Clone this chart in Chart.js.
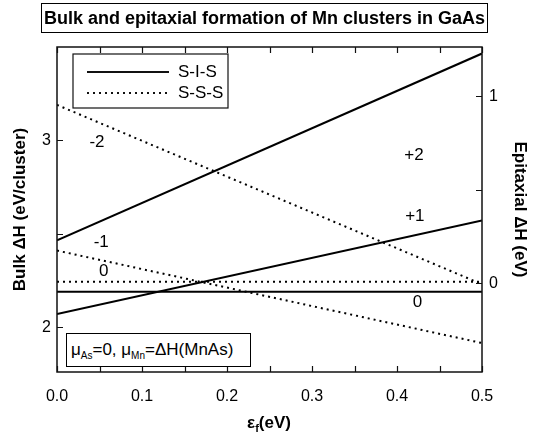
<!DOCTYPE html>
<html>
<head>
<meta charset="utf-8">
<script src="https://cdn.jsdelivr.net/npm/chart.js@4.4.1/dist/chart.umd.min.js"></script>
<style>
  body{margin:0;background:#fff;font-family:Arial,"Liberation Sans",Helvetica,sans-serif;}
  #wrap{position:relative;width:538px;height:439px;}
  #wrap canvas{position:absolute;left:0;top:0;}
  #title{position:absolute;left:41px;top:3px;width:445px;height:28px;border:1px solid #000;
    font-weight:bold;font-size:18px;line-height:28px;text-align:center;white-space:nowrap;}
  #xtitle{position:absolute;left:0;width:538px;top:413px;text-align:center;font-weight:bold;font-size:17px;}
  #xtitle sub{font-size:11px;vertical-align:-4px;}
  #note{position:absolute;left:66px;top:333px;width:179px;height:32px;border:1px solid #000;background:#fff;
    font-size:17px;line-height:32px;padding-left:4px;box-sizing:content-box;white-space:nowrap;}
  #note sub{font-size:10px;vertical-align:-4px;}
</style>
</head>
<body>
<div id="wrap">
  <canvas id="chart" width="538" height="439"></canvas>
  <div id="title">Bulk and epitaxial formation of Mn clusters in GaAs</div>
  <div id="xtitle">ε<sub>f</sub>(eV)</div>
  <div id="note">μ<sub>As</sub>=0, μ<sub>Mn</sub>=ΔH(MnAs)</div>
</div>
<script>
/* data */
const xVals = [0, 0.5];
const sisPlus2 = [2.465, 3.465];
const sisPlus1 = [2.07, 2.571];
const sisZero = [2.19, 2.19];
const sssMinus2 = [3.19, 2.23];
const sssMinus1 = [2.41, 1.915];
const sssZero = [2.243, 2.243];

/* ticks */
const xMajor = [0, 0.1, 0.2, 0.3, 0.4, 0.5];
const xMinor = [0.05, 0.15, 0.25, 0.35, 0.45];
const bulkMajor = [2, 3];
const bulkMinor = [2.5];
const epiMajor = [0, 1];
const epiMinor = [0.5];

/* charge state labels next to the lines */
const chargeLabels = ['+2', '+1', '0', '-2', '-1', '0'];
const chargeX = [0.42, 0.421, 0.424, 0.047, 0.052, 0.055];
const chargeY = [2.918, 2.596, 2.135, 2.988, 2.452, 2.297];

const legendNames = ['S-I-S', 'S-S-S'];

const pts = ys => xVals.map((x, i) => ({x: x, y: ys[i]}));
const DOT = [2, 4];

function line(label, ys, dotted){
  return {
    label: label,
    data: pts(ys),
    borderColor: '#000',
    borderWidth: 2,
    borderDash: dotted ? DOT : [],
    pointRadius: 0,
    tension: 0,
    yAxisID: 'y'
  };
}

/* frame, inward ticks, charge labels and legend */
const decor = {
  id: 'decor',
  afterDatasetsDraw(chart){
    const {ctx, chartArea: a, scales: {x, y, y2}} = chart;
    ctx.save();
    ctx.strokeStyle = '#111';
    ctx.lineWidth = 1.5;
    ctx.setLineDash([]);
    ctx.strokeRect(a.left, a.top, a.right - a.left, a.bottom - a.top);

    ctx.lineWidth = 1.2;
    ctx.beginPath();
    xMajor.concat(xMinor).forEach(v=>{
      const px = Math.round(x.getPixelForValue(v)) + 0.5;
      ctx.moveTo(px, a.bottom); ctx.lineTo(px, a.bottom - 6);
      ctx.moveTo(px, a.top); ctx.lineTo(px, a.top + 6);
    });
    bulkMajor.concat(bulkMinor).forEach(v=>{
      const py = Math.round(y.getPixelForValue(v)) + 0.5;
      ctx.moveTo(a.left, py); ctx.lineTo(a.left + 6, py);
    });
    epiMajor.concat(epiMinor).forEach(v=>{
      const py = Math.round(y2.getPixelForValue(v)) + 0.5;
      ctx.moveTo(a.right, py); ctx.lineTo(a.right - 6, py);
    });
    ctx.stroke();

    ctx.fillStyle = '#000';
    ctx.font = '17px Arial, "Liberation Sans", sans-serif';
    ctx.textAlign = 'center';
    ctx.textBaseline = 'middle';
    chargeLabels.forEach((t, i)=>{
      ctx.fillText(t, x.getPixelForValue(chargeX[i]), y.getPixelForValue(chargeY[i]));
    });

    // legend box
    const lx = a.left + 16, ly = a.top + 7, lw = 155, lh = 54;
    ctx.fillStyle = '#fff';
    ctx.fillRect(lx, ly, lw, lh);
    ctx.lineWidth = 1.2;
    ctx.strokeRect(lx, ly, lw, lh);
    legendNames.forEach((name, i)=>{
      const yy = ly + 18 + i * 21;
      ctx.beginPath();
      ctx.lineWidth = 2;
      ctx.setLineDash(i ? DOT : []);
      ctx.moveTo(lx + 14, yy); ctx.lineTo(lx + 96, yy);
      ctx.stroke();
      ctx.setLineDash([]);
      ctx.fillStyle = '#000';
      ctx.textAlign = 'left';
      ctx.fillText(name, lx + 105, yy);
    });
    ctx.restore();
  }
};

new Chart(document.getElementById('chart'), {
  type: 'line',
  data: {
    datasets: [
      line('S-I-S +2', sisPlus2, false),
      line('S-I-S +1', sisPlus1, false),
      line('S-I-S 0', sisZero, false),
      line('S-S-S -2', sssMinus2, true),
      line('S-S-S -1', sssMinus1, true),
      line('S-S-S 0', sssZero, true)
    ]
  },
  options: {
    responsive: false,
    animation: false,
    layout: {padding: {left: 10, right: 8, top: 47, bottom: 0}},
    plugins: {legend: {display: false}, title: {display: false}, tooltip: {enabled: false}},
    scales: {
      x: {
        type: 'linear', min: 0, max: 0.5,
        afterBuildTicks: s => { s.ticks = xMajor.map(v => ({value: v})); },
        afterFit: s => { s.height = 67; },
        grid: {display: false, drawTicks: false},
        border: {display: false},
        ticks: {color: '#000', font: {size: 16, family: 'Arial'}, padding: 15, maxRotation: 0,
          callback: v => v.toFixed(1)}
      },
      y: {
        position: 'left', min: 1.76, max: 3.5,
        afterBuildTicks: s => { s.ticks = bulkMajor.map(v => ({value: v})); },
        afterFit: s => { s.width = 47; },
        grid: {display: false, drawTicks: false},
        border: {display: false},
        ticks: {color: '#000', font: {size: 16, family: 'Arial'}, padding: 6},
        title: {display: true, text: 'Bulk ΔH (eV/cluster)', color: '#000',
          font: {size: 17, weight: 'bold', family: 'Arial'}, padding: {top: 0, bottom: 0}}
      },
      y2: {
        position: 'right', min: -0.475, max: 1.265,
        afterBuildTicks: s => { s.ticks = epiMajor.map(v => ({value: v})); },
        afterFit: s => { s.width = 48; },
        grid: {display: false, drawTicks: false},
        border: {display: false},
        ticks: {color: '#000', font: {size: 16, family: 'Arial'}, padding: 7},
        title: {display: true, text: 'Epitaxial ΔH (eV)', color: '#000',
          font: {size: 17, weight: 'bold', family: 'Arial'}, padding: {top: 0, bottom: 0}}
      }
    }
  },
  plugins: [decor]
});
</script>
</body>
</html>
